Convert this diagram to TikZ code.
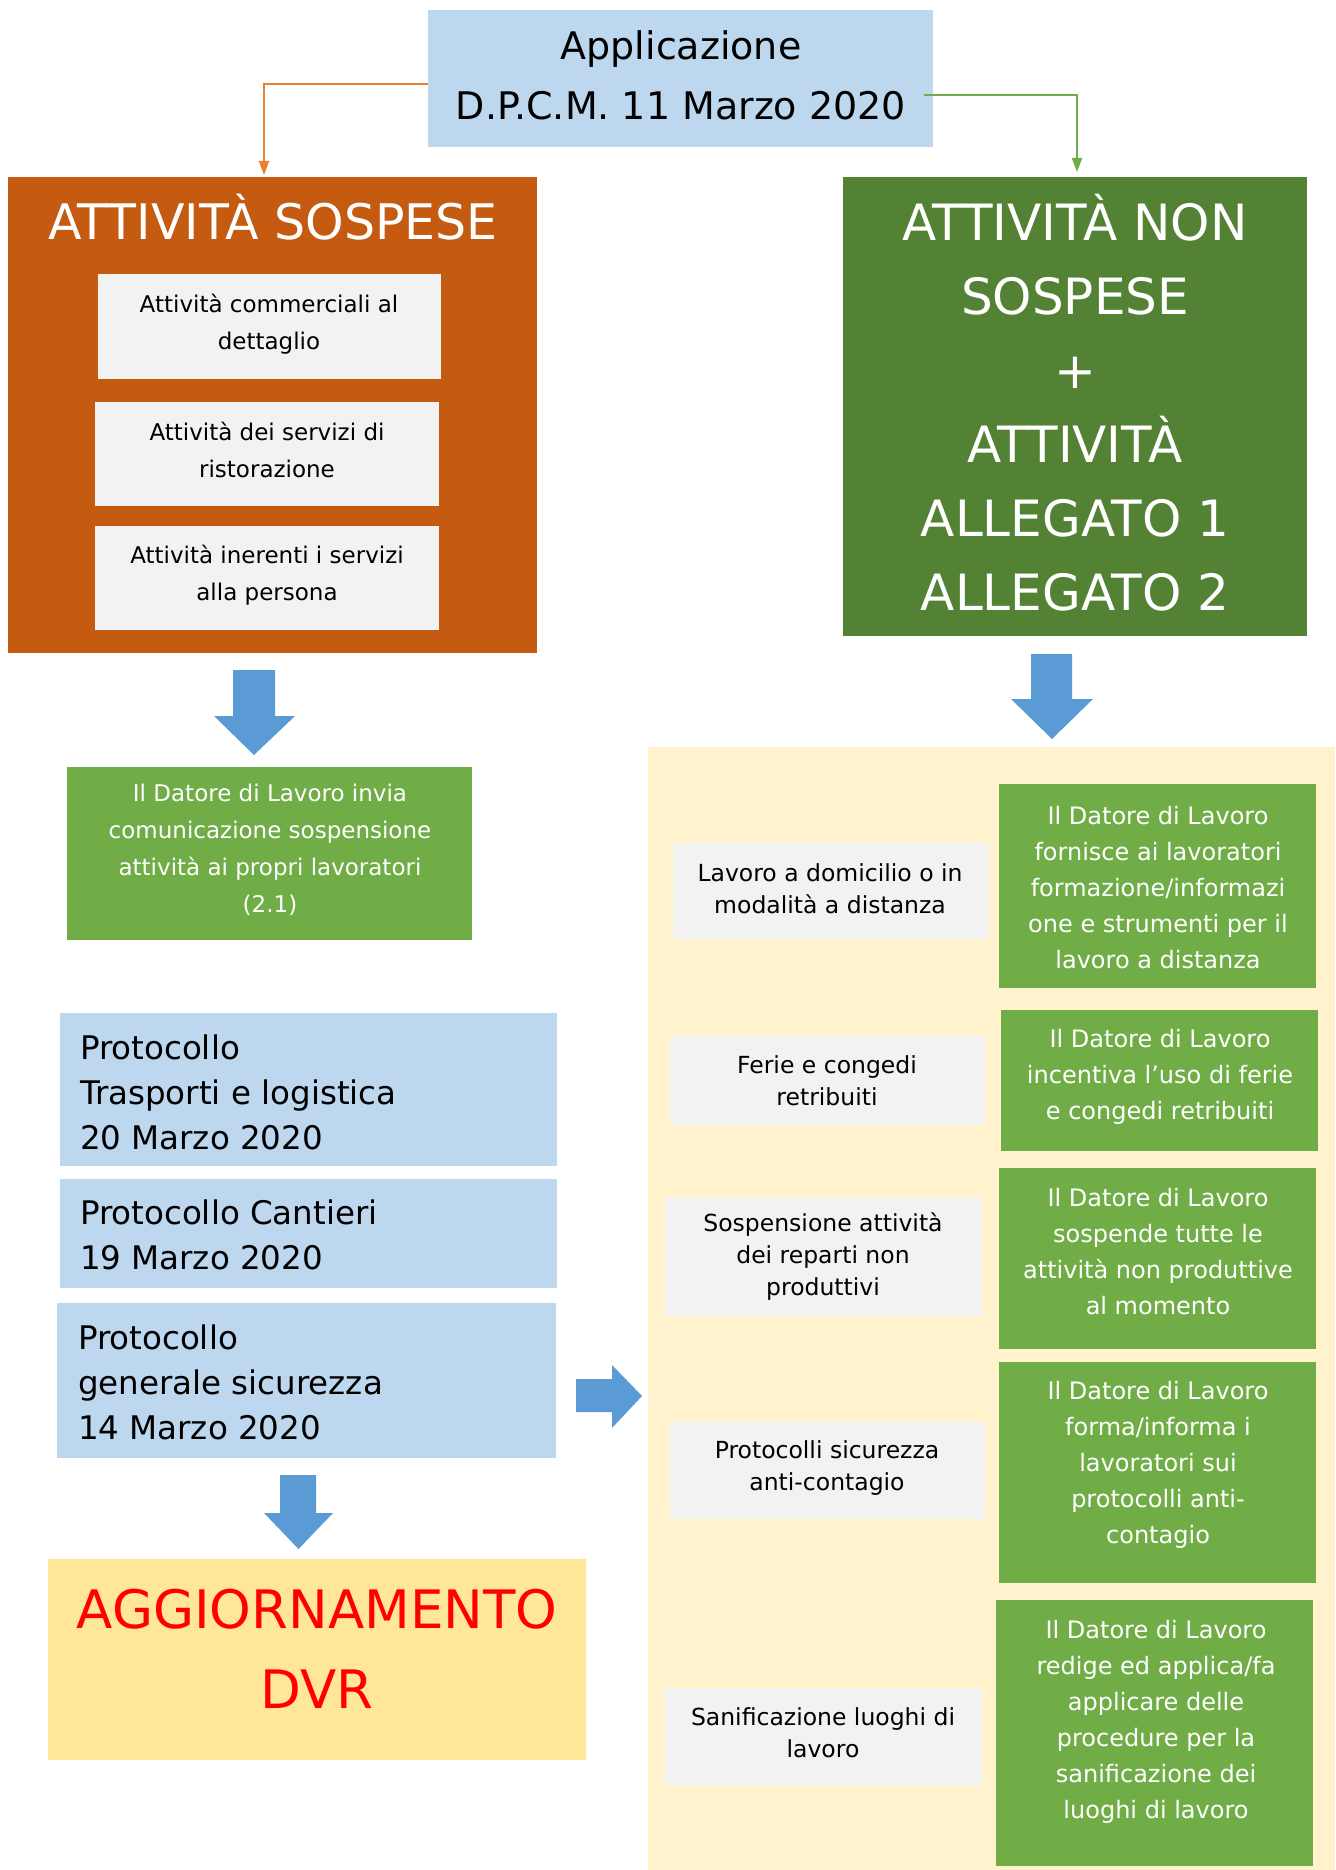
\documentclass[tikz,border=0pt]{standalone}
\usepackage{fontspec}
\setmainfont{DejaVu Sans}
\usetikzlibrary{arrows.meta,calc}
\definecolor{topblue}{HTML}{BDD7EE}
\definecolor{sosp}{HTML}{C55A11}
\definecolor{darkgr}{HTML}{548235}
\definecolor{ligr}{HTML}{70AD47}
\definecolor{graybx}{HTML}{F2F2F2}
\definecolor{panel}{HTML}{FFF2CC}
\definecolor{dvr}{HTML}{FFE699}
\definecolor{arrblue}{HTML}{5B9BD5}
\definecolor{orline}{HTML}{ED7D31}
\newcommand\mybox[6]{\node[#6, minimum width={(#4-#2)*1pt}, minimum height={(#5-#3)*1pt}] (#1) at ({(#2+#4)/2},{(#3+#5)/2}) {};}
\tikzset{
  bx/.style={inner sep=0pt, outer sep=0pt, draw=none},
  txt/.style={inner sep=0pt, outer sep=0pt, align=center},
  blk/.style={fill=arrblue, draw=none},
}
\begin{document}
\begin{tikzpicture}[x=1pt,y=-1pt]
\useasboundingbox (0,0) rectangle (1335,1870);
\fill[white] (0,0) rectangle (1335,1870);
% panel
\fill[panel] (648,747) rectangle (1335,1870);
% top box
\mybox{tb}{428}{10}{933}{147}{bx, fill=topblue}
\node[txt, font=\fontsize{38}{60}\selectfont] (tbt) at (681,75) {Applicazione\\D.P.C.M. 11 Marzo 2020};
% orange box
\mybox{os}{8}{177}{537}{653}{bx, fill=sosp}
\node[txt, text=white, font=\fontsize{49}{60}\selectfont] (ost) at (273,217) {ATTIVITÀ SOSPESE};
\mybox{w1}{98}{274}{441}{379}{bx, fill=graybx}
\mybox{w2}{95}{402}{439}{506}{bx, fill=graybx}
\mybox{w3}{95}{526}{439}{630}{bx, fill=graybx}
\node[txt, font=\fontsize{23}{37}\selectfont] (w1t) at (269,324) {Attività commerciali al\\dettaglio};
\node[txt, font=\fontsize{23}{37}\selectfont] (w2t) at (267,450) {Attività dei servizi di\\ristorazione};
\node[txt, font=\fontsize{23}{37}\selectfont] (w3t) at (267,575) {Attività inerenti i servizi\\alla persona};
% green big box
\mybox{ns}{843}{177}{1307}{636}{bx, fill=darkgr}
\node[txt, text=white, font=\fontsize{50}{74}\selectfont] (nst) at (1075,403) {ATTIVITÀ NON\\SOSPESE\\+\\ATTIVITÀ\\ALLEGATO 1\\ALLEGATO 2};
% connectors
\draw[orline, line width=2pt, -{Triangle[length=14pt,width=10pt]}] ($(tb.west)+(0,5.5)$) -| ($(os.north)+(-8.5,-2)$);
\draw[ligr, line width=2pt, -{Triangle[length=14pt,width=10pt]}] ($(tb.east)+(-9,16.5)$) -| ($(ns.north)+(2,-5)$);
% blue arrows
\fill[blk] (233,670) -- (275,670) -- (275,716) -- (295,716) -- (254,755) -- (214,716) -- (233,716) -- cycle;
\fill[blk] (1031,654) -- (1072,654) -- (1072,699) -- (1093,699) -- (1052,739) -- (1011,699) -- (1031,699) -- cycle;
\fill[blk] (280,1475) -- (316,1475) -- (316,1513) -- (333,1513) -- (298.5,1549) -- (264,1513) -- (280,1513) -- cycle;
\fill[blk] (576,1379) -- (612,1379) -- (612,1365) -- (642,1396) -- (612,1428) -- (612,1412) -- (576,1412) -- cycle;
% left green
\mybox{lg}{67}{767}{472}{940}{bx, fill=ligr}
\node[txt, text=white, font=\fontsize{23}{37}\selectfont] (lgt) at (270,850) {Il Datore di Lavoro invia\\comunicazione sospensione\\attività ai propri lavoratori\\(2.1)};
% protocols
\mybox{p1}{60}{1013}{557}{1166}{bx, fill=topblue}
\mybox{p2}{60}{1179}{557}{1288}{bx, fill=topblue}
\mybox{p3}{57}{1303}{556}{1458}{bx, fill=topblue}
\node[txt, align=left, anchor=west, font=\fontsize{32.5}{45}\selectfont] (p1t) at (80,1092) {Protocollo\\Trasporti e logistica\\20 Marzo 2020};
\node[txt, align=left, anchor=west, font=\fontsize{32.5}{45}\selectfont] (p2t) at (80,1235) {Protocollo Cantieri\\19 Marzo 2020};
\node[txt, align=left, anchor=west, font=\fontsize{32.5}{45}\selectfont] (p3t) at (78,1382) {Protocollo\\generale sicurezza\\14 Marzo 2020};
% DVR
\mybox{dv}{48}{1559}{586}{1760}{bx, fill=dvr}
\node[txt, text=red, font=\fontsize{53}{80}\selectfont] (dvt) at (317,1649) {AGGIORNAMENTO\\DVR};
% right gray boxes
\mybox{ra}{673}{843}{989}{939}{bx, fill=graybx}
\mybox{rb}{670}{1036}{985}{1125}{bx, fill=graybx}
\mybox{rc}{665}{1197}{982}{1316}{bx, fill=graybx}
\mybox{rd}{670}{1422}{985}{1519}{bx, fill=graybx}
\mybox{re}{665}{1688}{982}{1786}{bx, fill=graybx}
\node[txt, font=\fontsize{23.5}{32}\selectfont] (rat) at (830,889) {Lavoro a domicilio o in\\modalità a distanza};
\node[txt, font=\fontsize{23.5}{32}\selectfont] (rbt) at (827,1081) {Ferie e congedi\\retribuiti};
\node[txt, font=\fontsize{23.5}{32}\selectfont] (rct) at (823,1257) {Sospensione attività\\dei reparti non\\produttivi};
\node[txt, font=\fontsize{23.5}{32}\selectfont] (rdt) at (827,1468) {Protocolli sicurezza\\anti-contagio};
\node[txt, font=\fontsize{23.5}{32}\selectfont] (ret) at (823,1733) {Sanificazione luoghi di\\lavoro};
% right green boxes
\mybox{g1}{999}{784}{1316}{988}{bx, fill=ligr}
\mybox{g2}{1001}{1010}{1318}{1151}{bx, fill=ligr}
\mybox{g3}{999}{1168}{1316}{1349}{bx, fill=ligr}
\mybox{g4}{999}{1362}{1316}{1583}{bx, fill=ligr}
\mybox{g5}{996}{1600}{1313}{1866}{bx, fill=ligr}
\node[txt, text=white, font=\fontsize{24}{36}\selectfont] (g1t) at (1158,888) {Il Datore di Lavoro\\fornisce ai lavoratori\\formazione/informazi\\one e strumenti per il\\lavoro a distanza};
\node[txt, text=white, font=\fontsize{24}{36}\selectfont] (g2t) at (1160,1077) {Il Datore di Lavoro\\incentiva l’uso di ferie\\e congedi retribuiti};
\node[txt, text=white, font=\fontsize{24}{36}\selectfont] (g3t) at (1158,1252) {Il Datore di Lavoro\\sospende tutte le\\attività non produttive\\al momento};
\node[txt, text=white, font=\fontsize{24}{36}\selectfont] (g4t) at (1158,1465) {Il Datore di Lavoro\\forma/informa i\\lavoratori sui\\protocolli anti-\\contagio};
\node[txt, text=white, font=\fontsize{24}{36}\selectfont] (g5t) at (1156,1722) {Il Datore di Lavoro\\redige ed applica/fa\\applicare delle\\procedure per la\\sanificazione dei\\luoghi di lavoro};
\end{tikzpicture}
\end{document}
